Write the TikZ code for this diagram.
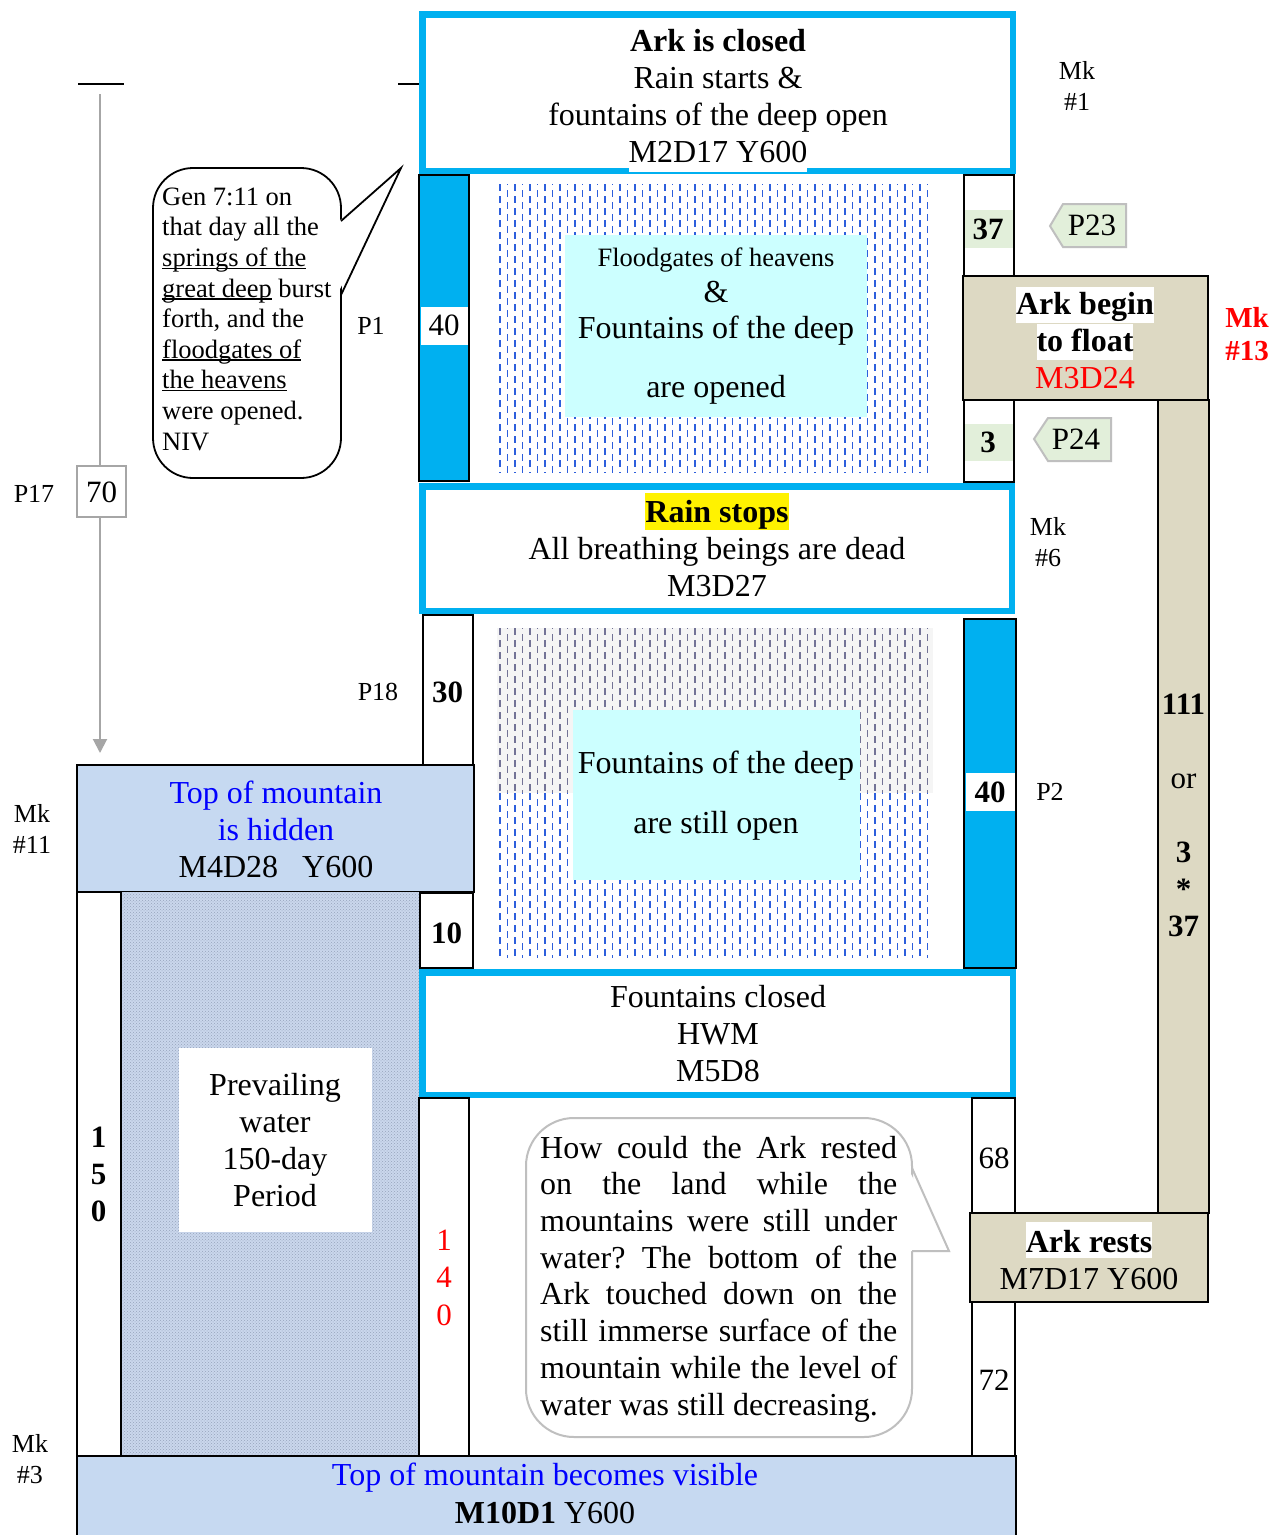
\documentclass[tikz,border=0pt]{standalone}
\usepackage{fontspec}
\setmainfont{Liberation Serif}
\usetikzlibrary{arrows.meta,patterns}
\definecolor{skyb}{HTML}{00B0F0}
\definecolor{lblue}{HTML}{C6D9F1}
\definecolor{tanc}{HTML}{DDD9C3}
\definecolor{lgreen}{HTML}{E2EFDA}
\definecolor{cyanb}{HTML}{CCFFFF}
\definecolor{dashb}{RGB}{45,95,220}
\definecolor{dashg}{RGB}{115,115,150}
\definecolor{dotbg}{HTML}{CAD7EC}
\definecolor{dotc}{HTML}{96A3BC}
\definecolor{tagline}{HTML}{BFBFBF}
\definecolor{arrgray}{HTML}{A6A6A6}
\frenchspacing
\newcommand\fMain{\fontsize{32}{36.8}\selectfont}
\newcommand\fNum{\fontsize{31}{37}\selectfont}
\newcommand\fSmall{\fontsize{26.5}{30.6}\selectfont}
\newcommand\fLab{\fontsize{26}{30.8}\selectfont}
\newcommand\myul[1]{\setbox0\hbox{#1}\rlap{\rule[-2.5pt]{\wd0}{1.3pt}}\box0\relax}
\newcommand\bgbox[4]{{\fboxsep=0pt\colorbox{#1}{\rule[-#2]{0pt}{#3}#4}}}
\newcommand\jl[1]{\hbox to 357pt{#1}}
\tikzset{
  blk/.style={draw=black, line width=1.8pt},
  bluebox/.style={draw=skyb, line width=6.5pt, fill=white},
  txt/.style={anchor=base, inner sep=0pt, align=center},
  tagbox/.style={draw=tagline, line width=2pt, fill=lgreen},
  rainline/.style={line width=1.3pt, dash pattern=on 7pt off 5pt},
}
\begin{document}
\begin{tikzpicture}[x=1pt,y=-1pt]
\useasboundingbox (0,0) rectangle (1281,1535);
\fill[white] (0,0) rectangle (1281,1535);

% ticks and grey arrow
\draw[line width=1.8pt] (78,84) -- (124,84);
\draw[line width=1.8pt] (398,84) -- (419,84);
\coordinate (arrS) at (100,94);
\coordinate (arrE) at (100,753);
\draw[arrgray, line width=2pt, -{Triangle[width=14pt,length=14pt]}] (arrS) -- (arrE);
\node[draw=arrgray, line width=2pt, fill=white, minimum width=49pt, minimum height=51pt, inner sep=0pt] (b70) at (101.5,491.5) {};
\node[txt, font=\fNum] (t70) at (101.5,502) {70};
\node[txt, font=\fLab] (p17) at (34,502) {P17};

% speech bubble 1
\draw[line width=1.8pt, fill=white, rounded corners=40pt] (153,168) rectangle (341,478);
\fill[white] (338,222) -- (401,168) -- (338,293) -- cycle;
\draw[line width=1.8pt, line join=miter] (341,221) -- (401,168) -- (341,295);
\node[anchor=base west, inner sep=0pt, align=left, font=\fSmall] (gen) at (162,450)
  {Gen 7:11 on\\that day all the\\\myul{springs of the}\\\myul{great deep} burst\\forth, and the\\\myul{floodgates of}\\\myul{the heavens}\\were opened.\\NIV};
\node[txt, font=\fLab] (p1) at (371,334) {P1};

% section 1
\draw[blk, fill=skyb] (419,175) rectangle (469,481);
\fill[white] (420.5,307) rectangle (467.5,345);
\node[txt, font=\fNum] (n40a) at (444,335) {40};
\foreach \i in {0,...,57} {
  \pgfmathsetmacro\ph{mod(\i,2)*6}
  \draw[dashb, rainline, dash phase=\ph pt] (500+\i*7.5,184) -- (500+\i*7.5,473);
}
\fill[cyanb] (565,235) rectangle (867,417);
\node[txt, font=\fSmall] (fg) at (716,266) {Floodgates of heavens};
\node[txt, font=\fMain] (amp) at (716,302) {\&};
\node[txt, font=\fMain] (fd1) at (716,338) {Fountains of the deep};
\node[txt, font=\fMain] (op1) at (716,397) {are opened};

\draw[blk, fill=white] (964,175) rectangle (1014,482);
\fill[lgreen] (965,210) rectangle (1013,248);
\node[txt, font=\fNum\bfseries] (n37) at (988,239) {37};
\fill[lgreen] (965,424) rectangle (1013,461);
\node[txt, font=\fNum\bfseries] (n3) at (988,452) {3};

\draw[blk, fill=tanc] (963,276) rectangle (1208,400);
\node[txt, font=\fMain] (float) at (1085,388)
  {\bgbox{white}{9pt}{36pt}{\textbf{Ark begin}}\\\bgbox{white}{9pt}{36pt}{\textbf{to float}}\\\textcolor{red}{M3D24}};
\draw[blk, fill=tanc] (1158,400) rectangle (1209,1213);
\node[txt, font=\fNum] (n111) at (1183.5,936) {\textbf{111}\\[37pt]or\\[37pt]\textbf{3}\\\textbf{*}\\\textbf{37}};

\draw[tagbox] (1050,226) -- (1063,204) -- (1126,204) -- (1126,247) -- (1063,247) -- cycle;
\node[txt, font=\fNum] (p23) at (1092,235) {P23};
\draw[tagbox] (1034,439) -- (1048,418) -- (1111,418) -- (1111,461) -- (1048,461) -- cycle;
\node[txt, font=\fNum] (p24) at (1076,449) {P24};
\node[txt, font=\fontsize{29}{33}\selectfont\bfseries, text=red] (mk13) at (1247,360) {Mk\\\#13};
\node[txt, font=\fLab] (mk1) at (1077,110) {Mk\\\#1};

% top box
\draw[bluebox] (422.25,14.25) rectangle (1012.75,170.75);
\node[txt, font=\fMain] (closed) at (718,162)
  {\textbf{Ark is closed}\\Rain starts \&\\fountains of the deep open\\\bgbox{white}{10pt}{36pt}{M2D17 Y600}};

% rain stops
\draw[bluebox] (422.25,486.25) rectangle (1011.75,610.75);
\node[txt, font=\fMain] (rain) at (717,596)
  {\bgbox{yellow}{8pt}{37pt}{\textbf{Rain stops}}\\All breathing beings are dead\\M3D27};
\node[txt, font=\fLab] (mk6) at (1048,566) {Mk\\\#6};

% section 2
\draw[blk, fill=white] (423,615) rectangle (473,767);
\node[txt, font=\fNum\bfseries] (n30) at (447.5,702) {30};
\node[txt, font=\fLab] (p18) at (378,700) {P18};
\fill[gray!8] (497,628) rectangle (933,793);
\foreach \i in {0,...,57} {
  \pgfmathsetmacro\ph{mod(\i,2)*6}
  \draw[dashg, rainline, dash phase=\ph pt] (500+\i*7.5,628) -- (500+\i*7.5,793);
  \draw[dashb, rainline, dash phase=\ph pt] (500+\i*7.5,793) -- (500+\i*7.5,958);
}
\fill[cyanb] (573,710) rectangle (860,880);
\node[txt, font=\fMain] (fd2) at (716,773) {Fountains of the deep};
\node[txt, font=\fMain] (op2) at (716,833) {are still open};

\draw[blk, fill=skyb] (964,619) rectangle (1016,968);
\fill[white] (965.5,773) rectangle (1014.5,811);
\node[txt, font=\fNum\bfseries] (n40b) at (990,802) {40};
\node[txt, font=\fLab] (p2) at (1050,800) {P2};

% mountain hidden
\draw[blk, fill=lblue] (77,765) rectangle (474,892);
\node[txt, font=\fMain] (hidden) at (276,877)
  {\textcolor{blue}{Top of mountain}\\\textcolor{blue}{is hidden}\\M4D28\hspace{24pt}Y600};
\node[txt, font=\fLab] (mk11) at (32,853) {Mk\\\#11};

% prevailing water
\draw[blk, fill=white] (77,892) rectangle (121,1456);
\fill[dotbg] (121,892) rectangle (419,1456);
\fill[pattern=crosshatch dots, pattern color=dotc] (121,892) rectangle (419,1456);
\draw[blk] (121,892) -- (121,1456);
\fill[white] (179,1048) rectangle (372,1232);
\node[txt, font=\fontsize{32}{36.7}\selectfont] (prev) at (275,1206) {Prevailing\\water\\150-day\\Period};
\node[txt, font=\fNum\bfseries] (n150) at (98.5,1221) {1\\5\\0};

\draw[blk, fill=white] (420,893) rectangle (473,968);
\node[txt, font=\fNum\bfseries] (n10) at (446.5,943) {10};

% fountains closed
\draw[bluebox] (422.25,972.25) rectangle (1012.75,1094.75);
\node[txt, font=\fMain] (fclosed) at (718,1081) {Fountains closed\\HWM\\M5D8};

% section 3
\draw[blk, fill=white] (419,1098) rectangle (469,1456);
\node[txt, font=\fontsize{31}{37.5}\selectfont, text=red] (n140) at (444,1325) {1\\4\\0};
\draw[blk, fill=white] (972,1098) rectangle (1015,1456);
\node[txt, font=\fNum] (n68) at (994,1168) {68};
\node[txt, font=\fNum] (n72) at (994,1390) {72};
\draw[blk, fill=tanc] (970,1213) rectangle (1208,1302);
\node[txt, font=\fMain] (rests) at (1089,1289) {\bgbox{white}{6pt}{36pt}{\textbf{Ark rests}}\\M7D17 Y600};

% speech bubble 2
\draw[tagline, line width=2pt, fill=white, rounded corners=48pt] (526,1118) rectangle (912,1437);
\fill[white] (909,1170) -- (949,1251) -- (909,1251) -- cycle;
\draw[tagline, line width=2pt, line join=miter] (912,1168) -- (949,1251) -- (912,1251);
\node[anchor=base west, inner sep=0pt, align=left, font=\fontsize{32}{36.7}\selectfont] (quest) at (540,1415)
  {\jl{How could the Ark rested}\\\jl{on the land while the}\\\jl{mountains were still under}\\\jl{water? The bottom of the}\\\jl{Ark touched down on the}\\\jl{still immerse surface of the}\\\jl{mountain while the level of}\\water was still decreasing.};

% bottom box
\draw[blk, fill=lblue] (77,1456) rectangle (1016,1550);
\node[txt, font=\fontsize{32}{38}\selectfont] (visible) at (545,1523)
  {\textcolor{blue}{Top of mountain becomes visible}\\\textbf{M10D1} Y600};
\node[txt, font=\fLab] (mk3) at (30,1483) {Mk\\\#3};
\end{tikzpicture}
\end{document}
